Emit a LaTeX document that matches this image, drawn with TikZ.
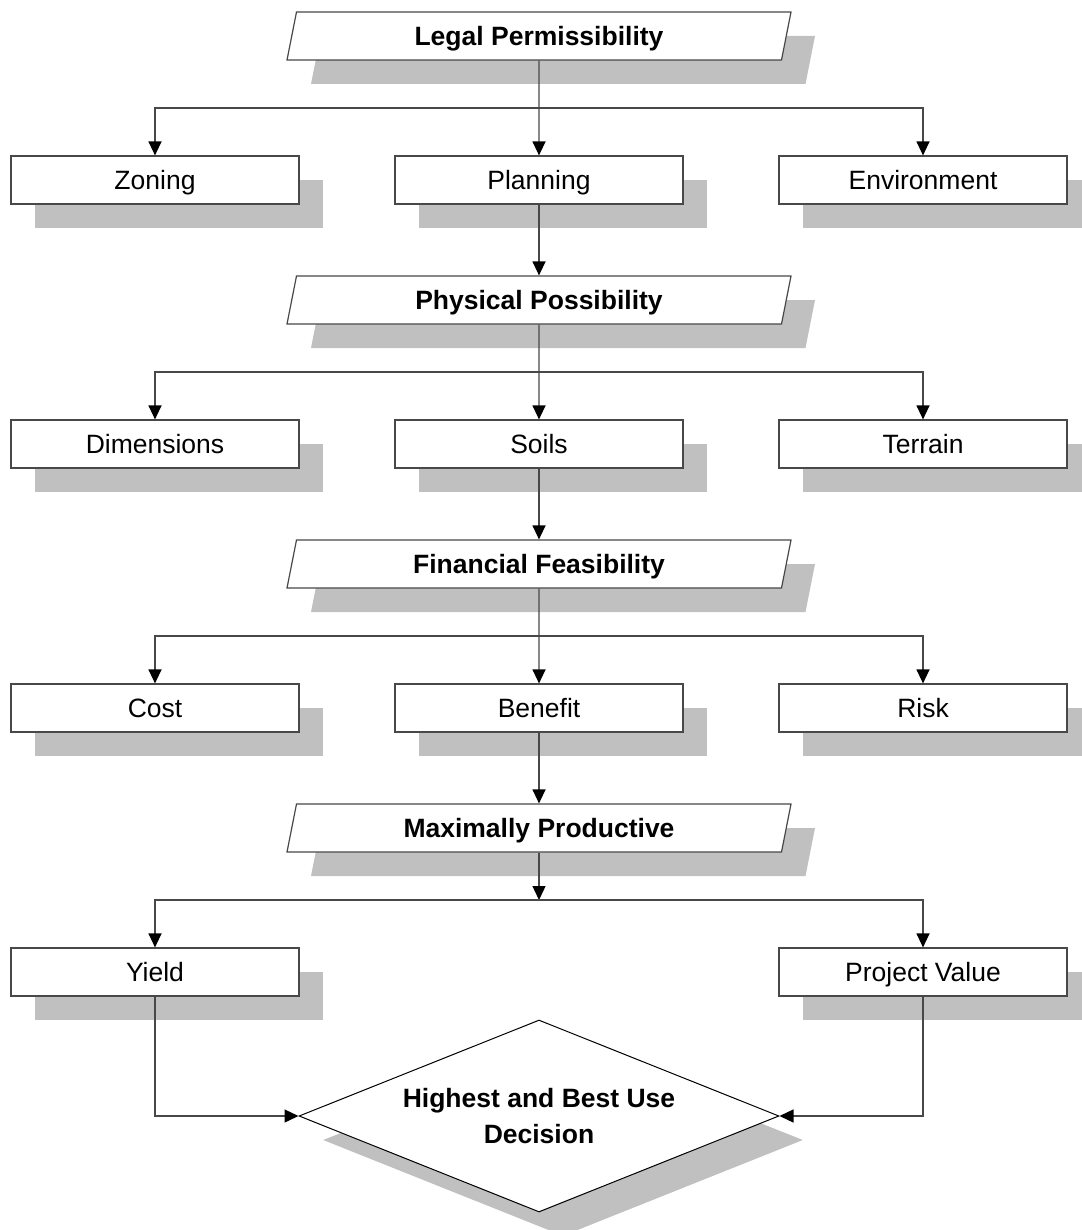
\documentclass[tikz,border=0pt]{standalone}
\usepackage{fontspec}
\setmainfont{Liberation Sans}
\usetikzlibrary{shapes.geometric,shadows,arrows.meta}
\definecolor{shadowgray}{RGB}{192,192,192}
\definecolor{linegray}{RGB}{72,72,72}

\begin{document}
\begin{tikzpicture}[x=1pt, y=-1pt,
    every node/.style={font=\fontsize{26.5}{32}\selectfont},
    grayshadow/.style={drop shadow={shadow xshift=24pt, shadow yshift=-24pt, fill=shadowgray, opacity=1}},
    box/.style={draw=linegray, line width=1.2pt, fill=white, minimum width=288pt, minimum height=48pt, inner sep=0pt,
      text height=19pt, text depth=0pt, grayshadow},
    stage/.style={trapezium, trapezium left angle=63.43, trapezium right angle=116.57, trapezium stretches body,
      draw=linegray, line width=1.2pt, fill=white, minimum width=504pt, minimum height=48pt, inner sep=0pt,
      text height=19pt, text depth=0pt, font=\fontsize{26.5}{32}\selectfont\bfseries, grayshadow},
    flow/.style={draw=linegray, line width=1.3pt, -{Triangle[length=14pt,width=13pt,color=black]}}
  ]
  \useasboundingbox (0,0) rectangle (1081,1230);
  \def \gap {264}

  % the four tests
  \foreach \t [count=\ni from 0] in {Legal Permissibility, Physical Possibility, Financial Feasibility, Maximally Productive}{
    \node[stage] at (539, 36+\ni*\gap) (s\ni) {\t};
    \coordinate (j\ni) at (539, 108+\ni*\gap);
  }

  \foreach \a/\b/\c [count=\ni from 0] in {Zoning/Planning/Environment, Dimensions/Soils/Terrain, Cost/Benefit/Risk}{
    \pgfmathtruncatemacro \nj {\ni+1}
    \node[box] at (155, 180+\ni*\gap) (l\ni) {\a};
    \node[box] at (539, 180+\ni*\gap) (m\ni) {\b};
    \node[box] at (923, 180+\ni*\gap) (r\ni) {\c};
    \draw[flow] (s\ni) -- (m\ni);
    \draw[flow] (j\ni) -| (l\ni);
    \draw[flow] (j\ni) -| (r\ni);
    \draw[flow] (m\ni) -- (s\nj);
  }

  \node[box] at (155, 972) (yield) {Yield};
  \node[box] at (923, 972) (pv) {Project Value};
  \node[diamond, draw=black, line width=1pt, fill=white, aspect=2.5, inner sep=0pt, minimum width=480pt, minimum height=192pt,
    align=center, font=\fontsize{26.5}{36}\selectfont\bfseries, grayshadow] at (539, 1116) (hbu) {Highest and Best Use\\Decision};

  \draw[flow] (s3) -- (j3);
  \draw[flow] (j3) -| (yield);
  \draw[flow] (j3) -| (pv);
  \draw[flow] (yield) |- (hbu);
  \draw[flow] (pv) |- (hbu);
\end{tikzpicture}
\end{document}
